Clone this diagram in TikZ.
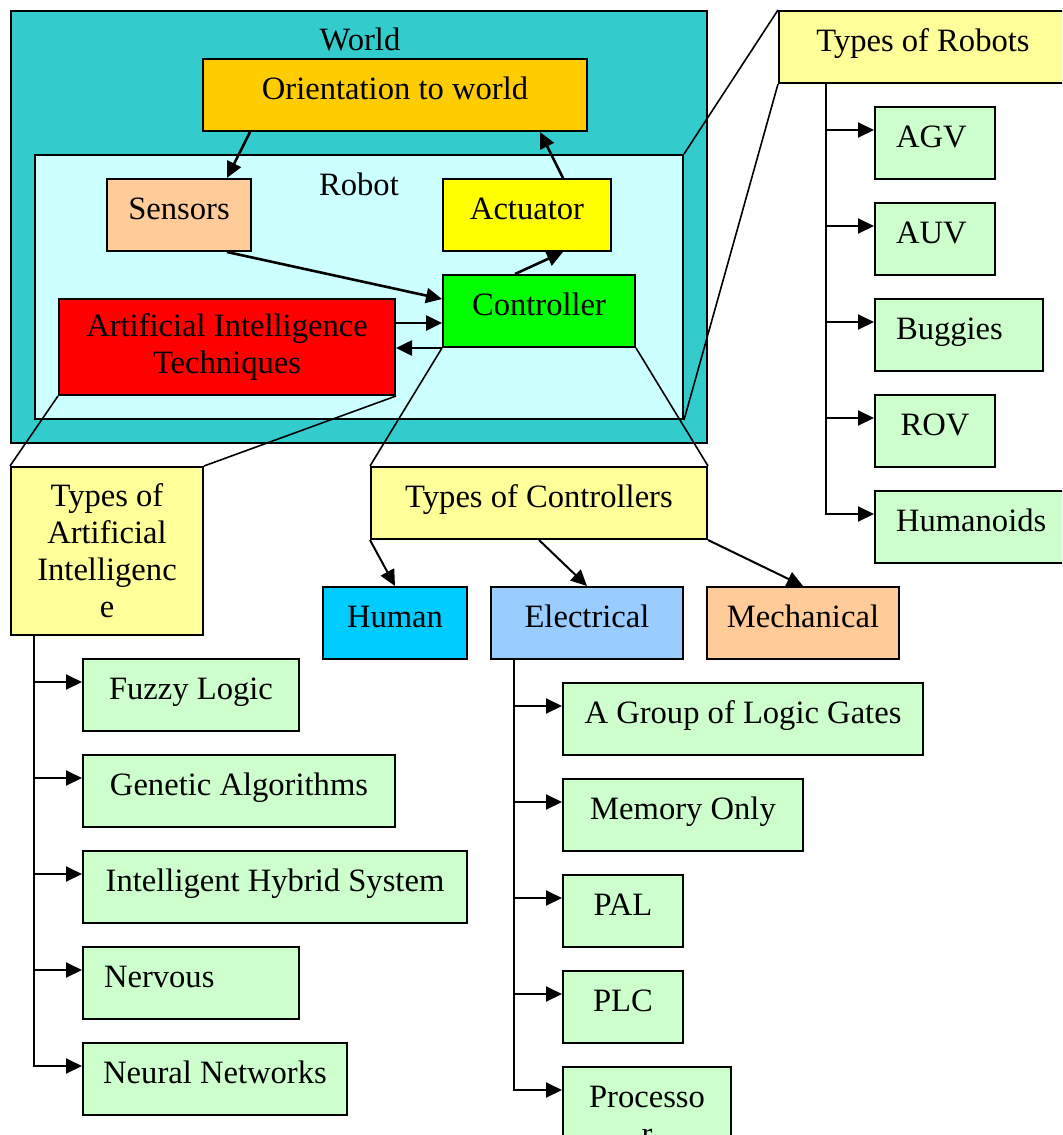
\documentclass[tikz,border=0pt]{standalone}
\usepackage{fontspec}
\setmainfont{Liberation Serif}
\usetikzlibrary{arrows.meta}

\definecolor{worldc}{HTML}{33CCCC}
\definecolor{robotc}{HTML}{CCFFFF}
\definecolor{orientc}{HTML}{FFCC00}
\definecolor{peachc}{HTML}{FFCC99}
\definecolor{actc}{HTML}{FFFF00}
\definecolor{ctrlc}{HTML}{00FF00}
\definecolor{aic}{HTML}{FF0000}
\definecolor{typec}{HTML}{FFFF99}
\definecolor{leafc}{HTML}{CCFFCC}
\definecolor{humanc}{HTML}{00CCFF}
\definecolor{elecc}{HTML}{99CCFF}

\begin{document}
\begin{tikzpicture}[x=0.5pt,y=-0.5pt,
  txt/.style={font=\fontsize{16.3}{18.5}\selectfont},
  box/.style={txt, draw=black, line width=1pt, inner sep=0pt, align=center},
  one/.style={text height=10.5pt, text depth=6.5pt},
  sz/.style 2 args={minimum width=#1pt, minimum height=#2pt},
  leaf/.style={box, one, fill=leafc},
  lft/.style={align=left, text width=#1pt-21pt, inner xsep=10.5pt},
  arr/.style={line width=1pt, -{Triangle[length=8pt,width=7.5pt]}},
  flow/.style={line width=1.3pt, -{Triangle[length=8pt,width=7.5pt]}},
  zoomline/.style={line width=0.8pt},
]
\useasboundingbox (0,0) rectangle (1062,1135);
\clip (0,0) rectangle (1062,1135);

% world and robot
\node[box, fill=worldc, sz={348}{216}] (world) at (359,227) {};
\node[txt, anchor=base] (worldlbl) at (360,50) {World};
\node[box, one, fill=orientc, sz={192}{36}] (orient) at (395,95) {Orientation to world};
\node[box, fill=robotc, sz={324}{132}] (robot) at (359,287) {};
\node[txt, anchor=base] (robotlbl) at (359,195) {Robot};
\node[box, one, fill=peachc, sz={72}{36}] (sensors) at (179,215) {Sensors};
\node[box, one, fill=actc, sz={84}{36}] (actuator) at (527,215) {Actuator};
\node[box, one, fill=ctrlc, sz={96}{36}] (controller) at (539,311) {Controller};
\node[box, fill=aic, sz={168}{48}] (aitech) at (227,347) {Artificial Intelligence\\Techniques};

% signal flow inside the robot
\draw[flow] ([xshift=24pt]orient.south west) -- ([xshift=24pt]sensors.north);
\draw[flow] ([xshift=18pt]actuator.north) -- ([xshift=-24pt]orient.south east);
\draw[flow] ([xshift=24pt]sensors.south) -- ([yshift=6pt]controller.west);
\draw[flow] ([xshift=-12pt]controller.north) -- ([xshift=18pt]actuator.south);
\draw[flow] ([yshift=12pt]aitech.east) -- ([yshift=12pt]aitech.east -| controller.west);
\draw[flow] (controller.south west) -- (controller.south west -| aitech.east);

% category headers
\node[box, one, fill=typec, sz={144}{36}] (tor) at (923,47) {Types of Robots};
\node[box, fill=typec, sz={96}{84}] (tai) at (107,551) {Types of\\Artificial\\Intelligenc\\e};
\node[box, one, fill=typec, sz={168}{36}] (toc) at (539,503) {Types of Controllers};

% zoom-out lines
\draw[zoomline] (robot.north east) -- (tor.north west);
\draw[zoomline] (robot.south east) -- (tor.south west);
\draw[zoomline] (aitech.south west) -- (tai.north west);
\draw[zoomline] (aitech.south east) -- (tai.north east);
\draw[zoomline] (controller.south west) -- (toc.north west);
\draw[zoomline] (controller.south east) -- (toc.north east);

% kinds of controllers
\node[box, one, fill=humanc, sz={72}{36}] (human) at (395,623) {Human};
\node[box, one, fill=elecc, sz={96}{36}] (electrical) at (587,623) {Electrical};
\node[box, one, fill=peachc, sz={96}{36}] (mechanical) at (803,623) {Mechanical};
\draw[arr] (toc.south west) -- (human.north);
\draw[arr] (toc.south) -- (electrical.north);
\draw[arr] (toc.south east) -- (mechanical.north);

% robot types
\node[leaf, lft=60, sz={60}{36}] (agv) at (935,143) {AGV};
\node[leaf, lft=60, sz={60}{36}] (auv) at (935,239) {AUV};
\node[leaf, lft=84, sz={84}{36}] (buggies) at (959,335) {Buggies};
\node[leaf, sz={60}{36}] (rov) at (935,431) {ROV};
\node[leaf, lft=96, sz={96}{36}] (humanoids) at (971,527) {Humanoids};
\coordinate (rtrunk) at ([xshift=24pt]tor.south west);
\foreach \n in {agv,auv,buggies,rov,humanoids}
  \draw[arr] (rtrunk) |- ([yshift=-12pt]\n.north west);

% AI types
\node[leaf, sz={108}{36}] (fuzzy) at (191,695) {Fuzzy Logic};
\node[leaf, sz={156}{36}] (genetic) at (239,791) {Genetic Algorithms};
\node[leaf, sz={192}{36}] (hybrid) at (275,887) {Intelligent Hybrid System};
\node[leaf, lft=108, sz={108}{36}] (nervous) at (191,983) {Nervous};
\node[leaf, sz={132}{36}] (neural) at (215,1079) {Neural Networks};
\coordinate (atrunk) at ([xshift=12pt]tai.south west);
\foreach \n in {fuzzy,genetic,hybrid,nervous,neural}
  \draw[arr] (atrunk) |- ([yshift=-12pt]\n.north west);

% electrical controllers
\node[leaf, sz={180}{36}] (gates) at (743,719) {A Group of Logic Gates};
\node[leaf, sz={120}{36}] (memory) at (683,815) {Memory Only};
\node[leaf, sz={60}{36}] (pal) at (623,911) {PAL};
\node[leaf, sz={60}{36}] (plc) at (623,1007) {PLC};
\node[box, fill=leafc, sz={84}{48}] (proc) at (647,1115) {Processo\\r};
\coordinate (etrunk) at ([xshift=12pt]electrical.south west);
\foreach \n in {gates,memory,pal,plc,proc}
  \draw[arr] (etrunk) |- ([yshift=-12pt]\n.north west);
\end{tikzpicture}
\end{document}
